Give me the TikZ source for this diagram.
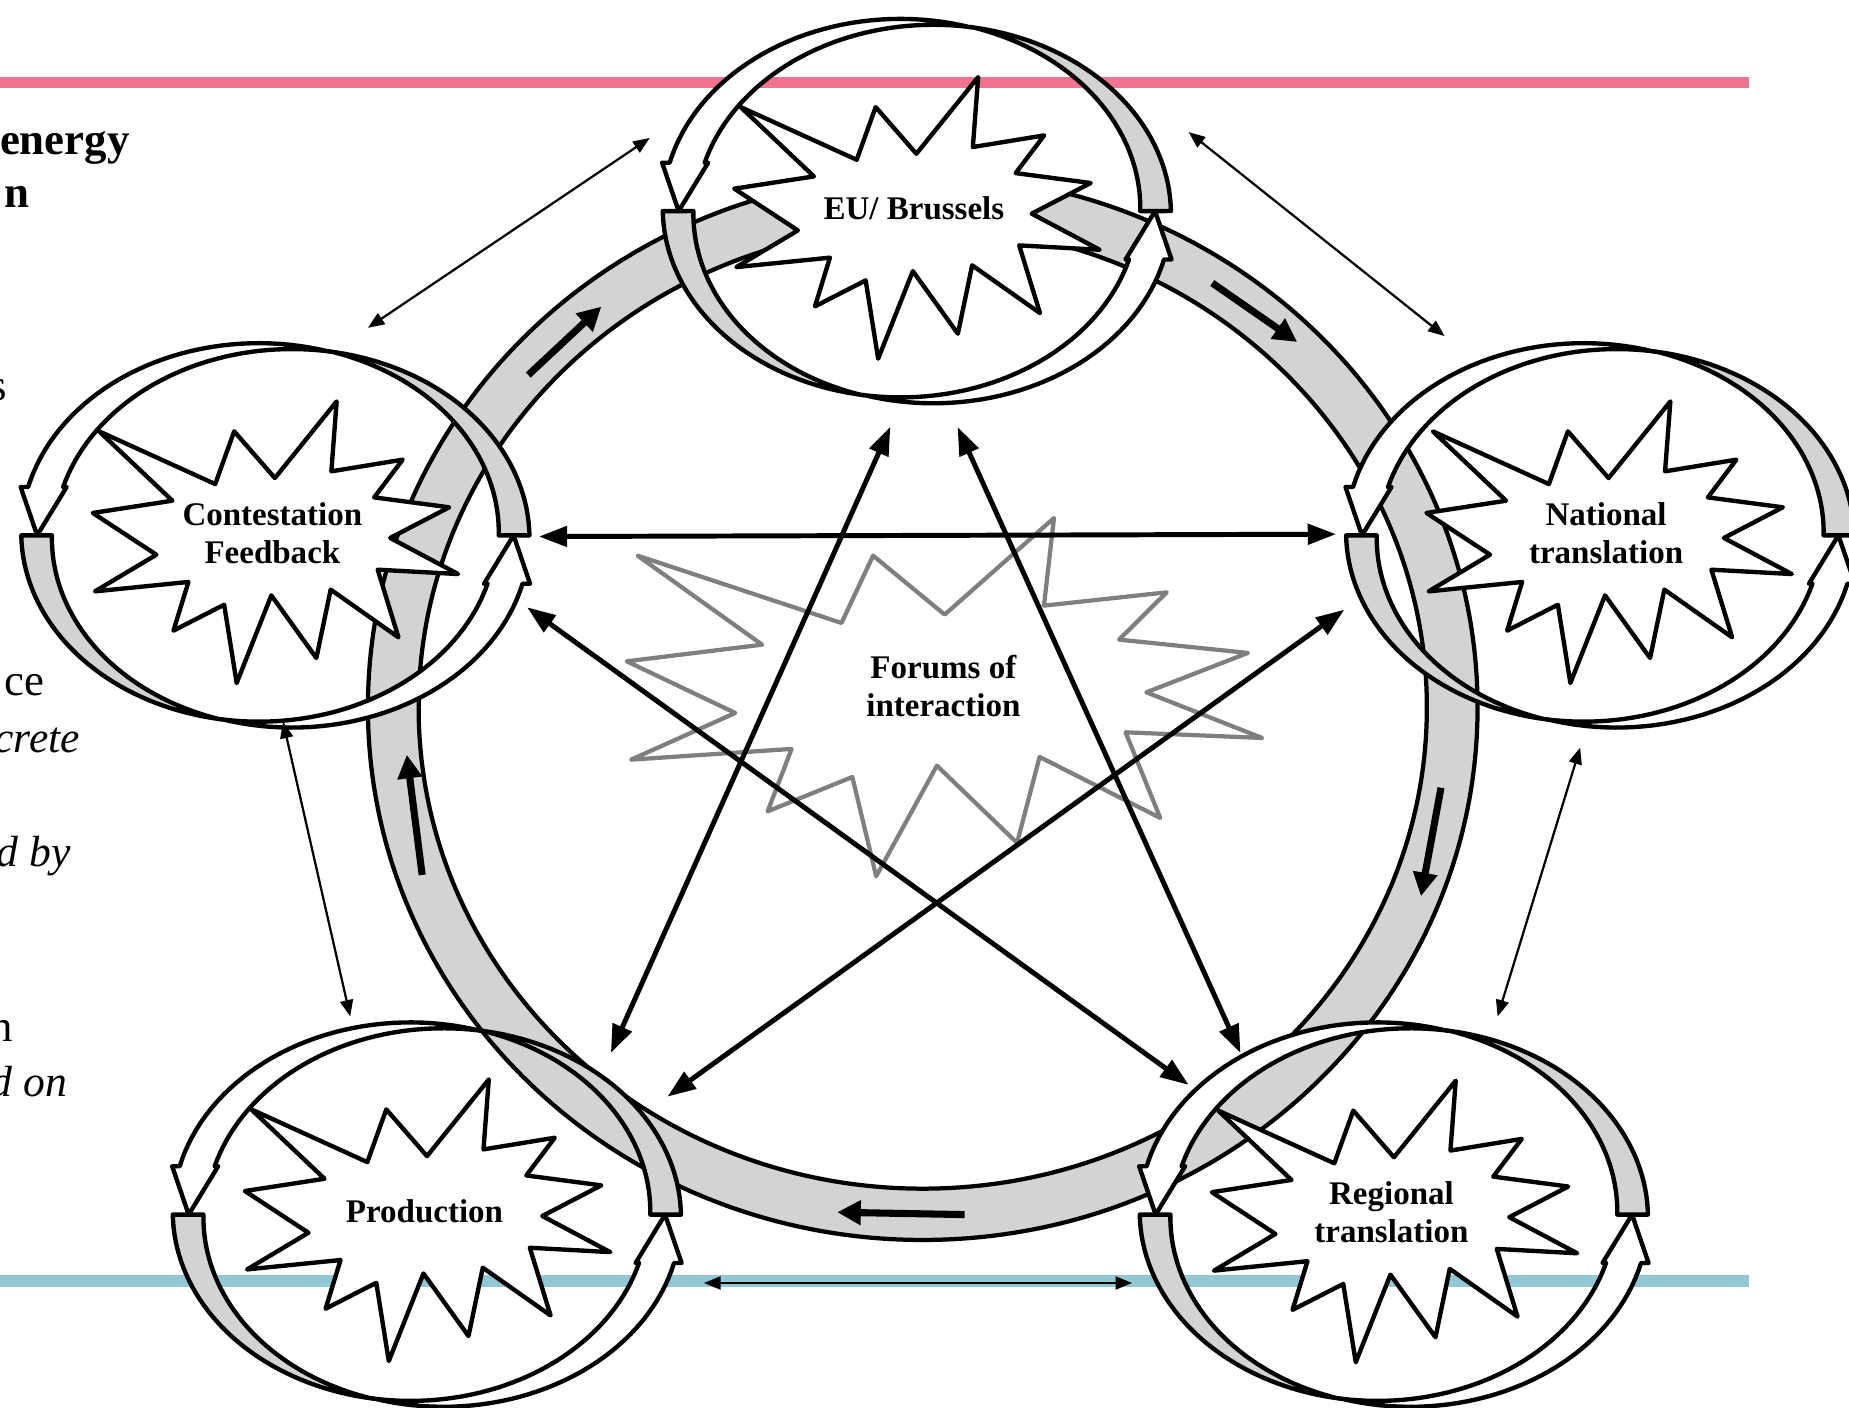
\documentclass[tikz,border=0pt]{standalone}
\usepackage{fontspec}
\setmainfont{Liberation Serif}
\usetikzlibrary{arrows.meta}
\definecolor{bandgrey}{RGB}{211,211,211}
\definecolor{pinkline}{RGB}{240,116,145}
\definecolor{blueline}{RGB}{146,200,214}
\tikzset{
  nodeline/.style={draw=black, line width=3.7pt, line join=round},
  ringline/.style={draw=black, line width=3.6pt},
  burst/.style={draw=black, fill=white, line width=3.7pt, line join=round},
  forumburst/.style={draw=black, draw opacity=0.5, line width=3.6pt, line join=round},
  bigarrow/.style={line width=4.2pt, {Triangle[length=24pt,width=17pt]}-{Triangle[length=24pt,width=17pt]}},
  thinarrow/.style={line width=1.9pt, {Triangle[length=14pt,width=11pt]}-{Triangle[length=14pt,width=11pt]}},
  ringarrow/.style={line width=6pt, -{Triangle[length=20pt,width=20pt]}},
  nodetext/.style={font=\bfseries\fontsize{28}{32}\selectfont, align=center, inner sep=0pt},
  sidereg/.style={anchor=base east, inner sep=0pt, font=\fontsize{38}{42}\selectfont},
  sideit/.style={anchor=base east, inner sep=0pt, font=\itshape\fontsize{37}{42}\selectfont},
  sidebold/.style={anchor=base east, inner sep=0pt, font=\bfseries\fontsize{38}{42}\selectfont},
}
% circular twin arrows round a node, centre (#1,#2)
\newcommand{\cycnode}[2]{%
  \filldraw[nodeline, fill=bandgrey]
    plot[domain=179.1:98.9, samples=40] ({#1-14+201.5*cos(\x)},{#2-2.5+160.5*sin(\x)})
    -- plot[domain=107.1:180.9, samples=40] ({#1+12+201.5*cos(\x)},{#2+2.5+160.5*sin(\x)})
    -- cycle;
  \filldraw[nodeline, fill=bandgrey]
    plot[domain=359.1:278.9, samples=40] ({#1+14+201.5*cos(\x)},{#2+2.5+160.5*sin(\x)})
    -- plot[domain=287.1:360.9, samples=40] ({#1-12+201.5*cos(\x)},{#2-2.5+160.5*sin(\x)})
    -- cycle;
  \filldraw[nodeline, fill=white]
    plot[domain=287.1:193.9, samples=40] ({#1-14+201.5*cos(\x)},{#2-2.5+160.5*sin(\x)})
    -- ({#1-216},{#2-41}) -- ({#1-202},{#2}) -- ({#1-177},{#2-41})
    -- plot[domain=195.7:278.9, samples=40] ({#1+14+201.5*cos(\x)},{#2+2.5+160.5*sin(\x)})
    -- cycle;
  \filldraw[nodeline, fill=white]
    plot[domain=107.1:13.9, samples=40] ({#1+14+201.5*cos(\x)},{#2+2.5+160.5*sin(\x)})
    -- ({#1+216},{#2+41}) -- ({#1+202},{#2}) -- ({#1+177},{#2+41})
    -- plot[domain=15.7:98.9, samples=40] ({#1-14+201.5*cos(\x)},{#2-2.5+160.5*sin(\x)})
    -- cycle;
}
\newcommand{\nodeburst}[2]{%
  \filldraw[burst, shift={(#1,#2)}]
    (-146.9,-86.2) -- (-48.5,-41.5) -- (-32.4,-86.2) -- (2.1,-46.6) -- (54.5,-111.6)
    -- (50.0,-52.3) -- (110.5,-62.2) -- (86.3,-30.2) -- (149.9,-21.8) -- (99.9,4.2)
    -- (157.5,34.8) -- (89.3,31.1) -- (106.9,88.5) -- (49.4,48.0) -- (37.3,106.0)
    -- (-0.9,52.9) -- (-30.3,127.2) -- (-40.9,60.8) -- (-83.9,82.8) -- (-71.2,41.5)
    -- (-150.5,49.5) -- (-98.4,18.4) -- (-152.3,-17.0) -- (-84.8,-27.4) -- cycle;
}
\begin{document}
\begin{tikzpicture}[x=1pt, y=-1pt]
\useasboundingbox (0,0) rectangle (1568,1194);
% coloured rules
\draw[pinkline, line width=10pt] (0,70) -- (1483,70);
\draw[blueline, line width=10pt] (0,1086) -- (1483,1086);
% side text fragments
\node[sidebold] (t1) at (110,131) {energy};
\node[sidebold] (t2) at (25,176) {n};
\node[sidereg] (t3) at (6,340) {s};
\node[sidereg] (t4) at (38,590) {ce};
\node[sideit] (t5) at (68,638) {crete};
\node[sideit] (t6) at (60,735) {d by};
\node[sidereg] (t7) at (11,883) {n};
\node[sideit] (t8) at (57,930) {d on};
% big ring
\filldraw[ringline, fill=bandgrey, even odd rule]
  (782.5,600) ellipse [x radius=470.5pt, y radius=451.5pt]
  (782.5,600) ellipse [x radius=427.5pt, y radius=408pt];
% arrows on ring
\coordinate (ra1s) at (448,318); \coordinate (ra1e) at (510,260);
\coordinate (ra2s) at (1028,240); \coordinate (ra2e) at (1100,290);
\coordinate (ra3s) at (1222,668); \coordinate (ra3e) at (1205,760);
\coordinate (ra4s) at (818,1030); \coordinate (ra4e) at (710,1028);
\coordinate (ra5s) at (358,742); \coordinate (ra5e) at (345,640);
\draw[ringarrow] (ra1s) -- (ra1e);
\draw[ringarrow] (ra2s) -- (ra2e);
\draw[ringarrow] (ra3s) -- (ra3e);
\draw[ringarrow] (ra4s) -- (ra4e);
\draw[ringarrow] (ra5s) -- (ra5e);
% nodes
\coordinate (eu) at (777.5,179);
\coordinate (con) at (233.5,454);
\coordinate (nat) at (1357,454);
\coordinate (pro) at (362,1030);
\coordinate (reg) at (1182,1030);
\cycnode{777.5}{179}
\cycnode{233.5}{454}
\cycnode{1357}{454}
\cycnode{362}{1030}
\cycnode{1182}{1030}
\nodeburst{775}{177}
\nodeburst{231}{452}
\nodeburst{1362}{452}
\nodeburst{360}{1027}
\nodeburst{1180}{1028}
\node[nodetext] (eut) at (775,177) {EU/ Brussels};
\node[nodetext] (cont) at (231,452) {Contestation\\Feedback};
\node[nodetext] (natt) at (1362,452) {National\\translation};
\node[nodetext] (prot) at (360,1027) {Production};
\node[nodetext] (regt) at (1180,1028) {Regional\\translation};
% pentagram connectors
\coordinate (c-e) at (457,455); \coordinate (n-w) at (1133,453);
\coordinate (eu-sw) at (755,362); \coordinate (p-ne) at (518,893);
\coordinate (eu-se) at (812,362); \coordinate (r-nw) at (1052,893);
\coordinate (c-se) at (447,515); \coordinate (r-w) at (1008,920);
\coordinate (n-sw) at (1140,517); \coordinate (p-e) at (566,930);
\draw[bigarrow] (c-e) -- (n-w);
\draw[bigarrow] (eu-sw) -- (p-ne);
\draw[bigarrow] (eu-se) -- (r-nw);
\draw[bigarrow] (c-se) -- (r-w);
\draw[bigarrow] (n-sw) -- (p-e);
% thin connectors between neighbours
\coordinate (eu-w) at (551,117); \coordinate (c-n) at (312,278);
\coordinate (eu-e) at (1008,112); \coordinate (n-n) at (1225,285);
\coordinate (c-s) at (240,612); \coordinate (p-n) at (297,862);
\coordinate (n-s) at (1340,634); \coordinate (r-n) at (1270,862);
\coordinate (p-r) at (597,1088); \coordinate (r-l) at (960,1088);
\draw[thinarrow] (eu-w) -- (c-n);
\draw[thinarrow] (eu-e) -- (n-n);
\draw[thinarrow] (c-s) -- (p-n);
\draw[thinarrow] (n-s) -- (r-n);
\draw[thinarrow] (p-r) -- (r-l);
% forums of interaction
\draw[forumburst, shift={(800,582)}]
  (-259.3,-110.8) -- (-86.4,-53.7) -- (-59.6,-110.8) -- (1.1,-60.8) -- (93.8,-142.7)
  -- (85.3,-68.4) -- (189.4,-79.7) -- (149.0,-39.6) -- (258.2,-28.3) -- (172.1,5.1)
  -- (270.3,43.8) -- (154.5,39.0) -- (183.9,111.6) -- (81.6,59.9) -- (62.5,132.8)
  -- (-5.5,67.3) -- (-57.0,161.1) -- (-77.2,76.9) -- (-149.0,106.0) -- (-128.7,53.1)
  -- (-264.8,62.2) -- (-176.5,22.6) -- (-268.5,-21.2) -- (-153.7,-35.3) -- cycle;
\node[nodetext] (forum) at (800,582) {Forums of\\interaction};
\end{tikzpicture}
\end{document}
